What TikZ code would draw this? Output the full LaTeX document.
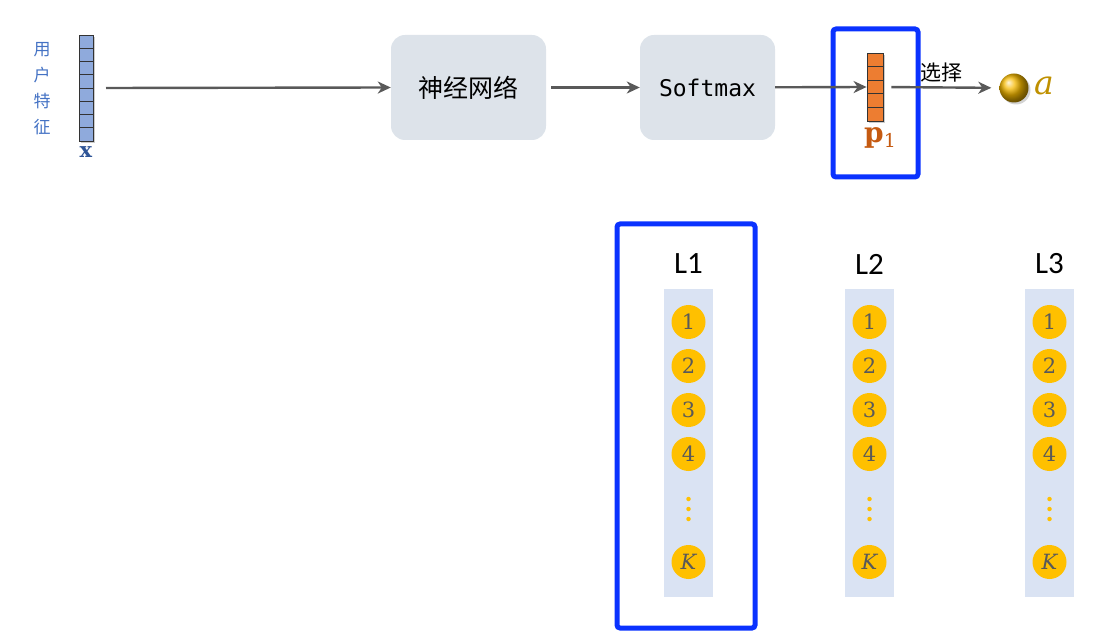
\documentclass[tikz,border=0pt]{standalone}
\usepackage{fontspec}
\setsansfont{Carlito}
\setmonofont{DejaVu Sans Mono}
\newfontfamily\cjk{Noto Sans CJK SC}
\newfontfamily\serifalt{DejaVu Serif}
\usetikzlibrary{positioning,shadows,arrows.meta}

\definecolor{vecblue}{HTML}{8FAADC}
\definecolor{xblue}{HTML}{2F5597}
\definecolor{featblue}{HTML}{4472C4}
\definecolor{porange}{HTML}{ED7D31}
\definecolor{plabel}{HTML}{C55A11}
\definecolor{boxgray}{HTML}{DDE3EA}
\definecolor{arrowgray}{HTML}{595959}
\definecolor{hiblue}{HTML}{0A32FF}
\definecolor{colblue}{HTML}{DAE3F3}
\definecolor{itemgold}{HTML}{FFC000}
\definecolor{agold}{HTML}{BF9000}

\begin{document}
\begin{tikzpicture}[x=1pt, y=-1pt,
x_cell/.style={rectangle, draw=black!80, fill=vecblue, thick, minimum width=14pt, minimum height=13.25pt, inner sep=0pt, drop shadow={shadow xshift=2pt, shadow yshift=-2pt, opacity=.4}},
p_cell/.style={rectangle, draw=black!80, fill=porange, thick, minimum width=16pt, minimum height=13.6pt, inner sep=0pt, drop shadow={shadow xshift=2pt, shadow yshift=-2pt, opacity=.4}},
net_box/.style={rectangle, rounded corners=14pt, fill=boxgray, minimum height=105pt, inner sep=0pt},
out_arrow/.style={-{Stealth[length=13pt, width=12pt, inset=4pt]}, line width=2.4pt, draw=arrowgray},
hi_box/.style={draw=hiblue, line width=5pt, rounded corners=3pt},
item/.style={circle, fill=itemgold, minimum size=34pt, inner sep=0pt, text=arrowgray, font=\serifalt\fontsize{21}{21}\selectfont},
item_dot/.style={circle, fill=itemgold, minimum size=4.5pt, inner sep=0pt},
layer_title/.style={font=\sffamily\fontsize{31}{31}\selectfont}
]
\useasboundingbox (0,0) rectangle (1114,636);

% user features
\node[text=featblue, font=\cjk\fontsize{17}{26}\selectfont, align=center] (feat_text) at (42,89) {用\\户\\特\\征};
\foreach \i in {0,...,7}
  \node[x_cell] (x\i) at (86,41.6+\i*13.25) {};
\node[text=xblue, font=\serifalt\bfseries\fontsize{21}{21}\selectfont] (x_label) at (86,152) {x};
\coordinate (x_out) at (106,88);

% network blocks
\node[net_box, minimum width=155pt, font=\cjk\fontsize{25}{25}\selectfont] (network) at (468.5,87.5) {神经网络};
\node[net_box, minimum width=135pt, font=\ttfamily\fontsize{23}{23}\selectfont] (softmax) at (707.5,87.5) {Softmax};

% probability vector
\foreach \i in {0,...,4}
  \node[p_cell] (p\i) at (875,59.8+\i*13.6) {};
\node[text=plabel, font=\serifalt\fontsize{28}{28}\selectfont] (p_label) at (880,138) {\textbf{p}\raisebox{-5pt}{\fontsize{19}{19}\selectfont 1}};
\draw[hi_box] (833,29) rectangle (918,177);

% chosen action
\node[circle, ball color=itemgold!85!agold, minimum size=29pt, inner sep=0pt, drop shadow={shadow xshift=2pt, shadow yshift=-2pt, opacity=.35}] (action) at (1014,88) {};
\node[text=agold, font=\serifalt\itshape\fontsize{33}{33}\selectfont, right=2pt of action, yshift=2pt] (a_label) {a};

\draw[out_arrow] (x_out) -- (network.west);
\draw[out_arrow, shorten <=5pt] (network) -- (softmax);
\draw[out_arrow] (softmax) -- (p2.west);
\draw[out_arrow, shorten <=8pt, shorten >=8pt] (p2.east) -- node[above, pos=0.5, font=\cjk\fontsize{21}{21}\selectfont, text=black, xshift=0pt, yshift=1pt] (choose_label) {选择} (action);

% layers
\foreach \n/\cx in {1/688.5, 2/869.5, 3/1049.5} {
  \fill[colblue] (\cx-24.5,289) rectangle (\cx+24.5,597);
  \node[layer_title] (title\n) at (\cx,264) {L\n};
  \foreach \k/\cy in {1/322, 2/366, 3/410, 4/454}
    \node[item] (l\n_\k) at (\cx,\cy) {\k};
  \foreach \cy in {499, 509, 519}
    \node[item_dot] at (\cx,\cy) {};
  \node[item] (l\n_K) at (\cx,562) {\itshape K};
}
\draw[hi_box] (617,224) rectangle (755,628);
\end{tikzpicture}
\end{document}
